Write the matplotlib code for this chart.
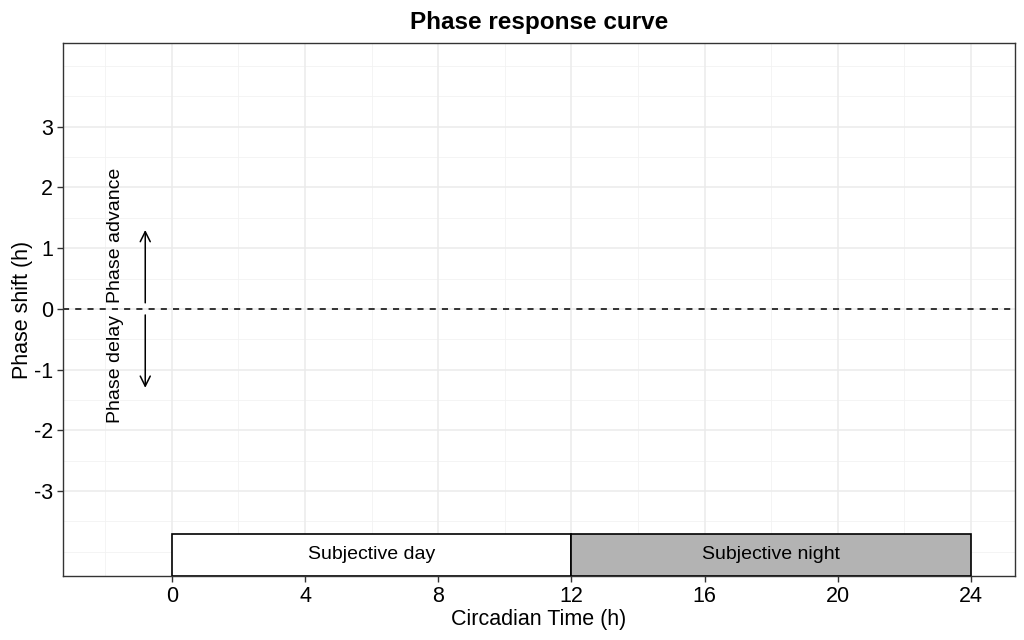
import matplotlib
matplotlib.use("Agg")
import matplotlib.pyplot as plt
from matplotlib.patches import Rectangle
import numpy as np

# data
x_major = [0, 4, 8, 12, 16, 20, 24]
x_minor = [-2, 2, 6, 10, 14, 18, 22]
y_major = [-3, -2, -1, 0, 1, 2, 3]
y_minor = [-4, -3.5, -2.5, -1.5, -0.5, 0.5, 1.5, 2.5, 3.5, 4]

bar_starts = [0, 12]
bar_ends = [12, 24]
bar_labels = ["Subjective day", "Subjective night"]
bar_fills = ["white", "#b3b3b3"]
bar_top = -3.7

arrow_x = -0.8
arrow_from = [0.1, -0.1]
arrow_to = [1.3, -1.3]
text_x = -1.7
arrow_texts = ["Phase advance", "Phase delay"]

xlim = (-3.27, 25.32)
ylim = (-4.4, 4.38)

plt.rcParams['font.family'] = ['Liberation Sans', 'DejaVu Sans']

fig = plt.figure(figsize=(10.24, 6.4), dpi=100)
ax = fig.add_axes([63/1024, 1-576/640, (1015-63)/1024, (576-43)/640])

# grid
for v in x_minor:
    ax.axvline(v, color="#f2f2f2", lw=0.6, zorder=0)
for v in y_minor:
    ax.axhline(v, color="#f2f2f2", lw=0.6, zorder=0)
for v in x_major:
    ax.axvline(v, color="#ebebeb", lw=1.1, zorder=0)
for v in y_major:
    ax.axhline(v, color="#ebebeb", lw=1.1, zorder=0)

ax.axhline(0, color="black", lw=1.1, ls=(0, (4, 4)), zorder=2)

for s, e, lab, fc in zip(bar_starts, bar_ends, bar_labels, bar_fills):
    ax.add_patch(Rectangle((s, ylim[0]), e - s, bar_top - ylim[0],
                           facecolor=fc, edgecolor="black", lw=1.2, zorder=3))
    ax.text((s + e) / 2, (bar_top + ylim[0]) / 2, lab, ha="center", va="center",
            fontsize=14, zorder=4)

for y0, y1 in zip(arrow_from, arrow_to):
    ax.annotate("", xy=(arrow_x, y1), xytext=(arrow_x, y0),
                arrowprops=dict(arrowstyle="->", color="black", lw=1.1,
                                mutation_scale=18, shrinkA=0, shrinkB=0))
ax.text(text_x, arrow_from[0], arrow_texts[0], rotation=90, ha="center", va="bottom",
        fontsize=14)
ax.text(text_x, arrow_from[1], arrow_texts[1], rotation=90, ha="center", va="top",
        fontsize=14)

ax.set_xlim(*xlim)
ax.set_ylim(*ylim)
ax.set_xticks(x_major)
ax.set_yticks(y_major)
ax.set_yticklabels([str(v) for v in y_major])
ax.tick_params(direction="out", length=4, width=1, color="#333333",
               labelsize=15.5, labelcolor="black", pad=3)
for sp in ax.spines.values():
    sp.set_color("#333333")
    sp.set_linewidth(1)

ax.set_xlabel("Circadian Time (h)", fontsize=15.5, labelpad=2)
ax.set_ylabel("Phase shift (h)", fontsize=15.5, labelpad=1)
ax.set_title("Phase response curve", fontsize=17.5, fontweight="bold", pad=10)

fig.savefig("out.png", dpi=100)
